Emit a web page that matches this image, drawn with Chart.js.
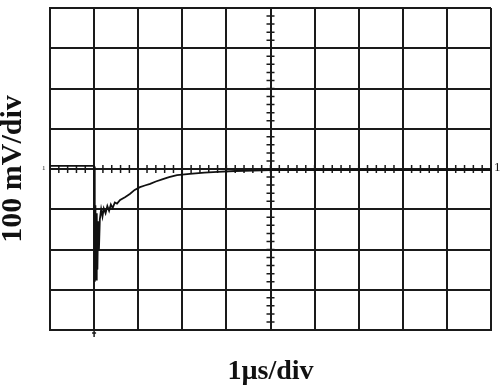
<!doctype html>
<html lang="en">
<head>
  <meta charset="utf-8">
  <script src="https://cdn.jsdelivr.net/npm/chart.js@4/dist/chart.umd.min.js"></script>
  <style>
    html, body { margin: 0; padding: 0; background: #fff; }
    #wrap { width: 502px; height: 387px; }
  </style>
</head>
<body>
<div id="wrap"><canvas id="scope"></canvas></div>
<script>
  // trace: time in µs, amplitude in mV
  const timeUs = [0, 0.5, 0.98, 1.0, 1.015, 1.03, 1.045, 1.06, 1.075, 1.09, 1.11, 1.13, 1.16, 1.19, 1.22,
    1.26, 1.3, 1.34, 1.38, 1.42, 1.47, 1.52, 1.59, 1.7, 1.81, 1.92, 2.04, 2.15, 2.27, 2.4, 2.56, 2.7,
    2.88, 3.17, 3.5, 3.8, 4.2, 4.6, 5, 6, 7, 8, 9, 10];
  const voltMv = [8, 8, 8, 6, -280, -90, -275, -110, -250, -130, -200, -125, -100, -118, -98,
    -110, -92, -104, -88, -97, -83, -86, -77, -70, -62, -52, -45, -41, -37, -31, -25, -20,
    -15, -12, -9, -7, -5, -4, -3, -3, -3, -3, -3, -3];

  const xRange = [0, 10];     // 10 divisions, 1 µs/div
  const yRange = [-400, 400]; // 8 divisions, 100 mV/div
  const minorX = 0.2;
  const minorY = 20;
  const triggerUs = 1;

  const ink = '#1a1a1a';

  const graticule = {
    id: 'graticule',
    beforeDatasetsDraw(chart) {
      const {ctx, scales: {x, y}} = chart;
      const cx = x.getPixelForValue(5), cy = y.getPixelForValue(0);
      ctx.save();
      ctx.strokeStyle = ink;
      ctx.lineWidth = 1.5;
      ctx.beginPath();
      for (let v = xRange[0]; v <= xRange[1] + 1e-6; v += minorX) {
        const px = x.getPixelForValue(v);
        ctx.moveTo(px, cy - 4);
        ctx.lineTo(px, cy + 4);
      }
      for (let v = yRange[0]; v <= yRange[1] + 1e-6; v += minorY) {
        const py = y.getPixelForValue(v);
        ctx.moveTo(cx - 4, py);
        ctx.lineTo(cx + 4, py);
      }
      // trigger marker under the grid
      const tx = x.getPixelForValue(triggerUs);
      ctx.moveTo(tx, chart.chartArea.bottom);
      ctx.lineTo(tx, chart.chartArea.bottom + 7);
      ctx.moveTo(tx - 2, chart.chartArea.bottom + 3);
      ctx.lineTo(tx + 2, chart.chartArea.bottom + 3);
      ctx.stroke();
      // channel markers
      ctx.fillStyle = ink;
      ctx.font = '13px "Liberation Serif"';
      ctx.textBaseline = 'middle';
      ctx.fillText('1', chart.chartArea.right + 3, cy - 1);
      ctx.font = '7px "Liberation Serif"';
      ctx.fillText('1', chart.chartArea.left - 8, cy - 1);
      ctx.restore();
    }
  };

  new Chart(document.getElementById('scope').getContext('2d'), {
    type: 'line',
    data: {
      datasets: [{
        data: timeUs.map((t, i) => ({x: t, y: voltMv[i]})),
        borderColor: '#111',
        borderWidth: 1.8,
        pointRadius: 0,
        tension: 0
      }]
    },
    options: {
      responsive: true,
      maintainAspectRatio: false,
      animation: false,
      events: [],
      layout: {padding: {top: 8, right: 11, left: 0, bottom: 0}},
      plugins: {legend: {display: false}, tooltip: {enabled: false}},
      scales: {
        x: {
          type: 'linear',
          min: xRange[0],
          max: xRange[1],
          afterFit: (s) => { s.height = 57; },
          ticks: {display: false, stepSize: 1},
          grid: {color: ink, lineWidth: 2, drawTicks: false},
          border: {display: true, color: ink, width: 2},
          title: {
            display: true,
            text: '1µs/div',
            color: '#111',
            font: {family: '"Liberation Serif"', size: 28, weight: 'bold', lineHeight: 1},
            padding: {top: 0, bottom: 1}
          }
        },
        y: {
          min: yRange[0],
          max: yRange[1],
          afterFit: (s) => { s.width = 50; },
          ticks: {display: false, stepSize: 100},
          grid: {color: ink, lineWidth: 2, drawTicks: false},
          border: {display: true, color: ink, width: 2},
          title: {
            display: true,
            text: '100 mV/div',
            color: '#111',
            font: {family: '"Liberation Serif"', size: 30, weight: 'bold', lineHeight: 1},
            padding: {top: -2, bottom: 0}
          }
        }
      }
    },
    plugins: [graticule]
  });
</script>
</body>
</html>
